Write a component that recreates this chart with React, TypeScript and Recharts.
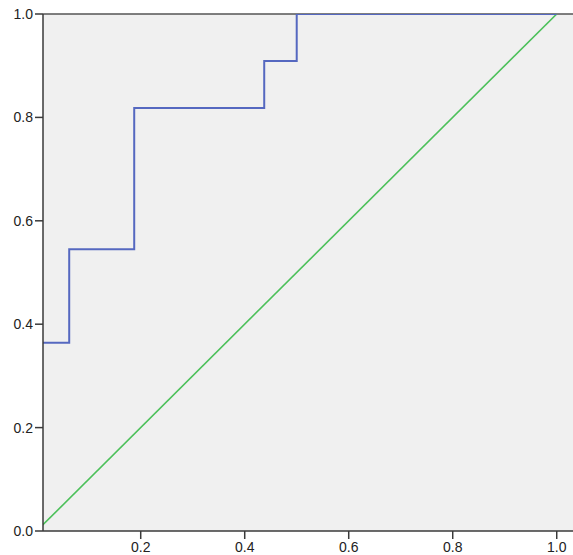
import React from 'react';
import { LineChart, Line, XAxis, YAxis, CartesianGrid, ReferenceLine } from 'recharts';

// 1 - specificity / sensitivity
const falsePositiveRate = [0, 0, 0.0625, 0.1875, 0.4375, 0.5, 1];
const truePositiveRate = [0, 0.364, 0.545, 0.818, 0.909, 1, 1];
const referenceX = [0, 1];
const referenceY = [0, 1];
const xTicks = [0.2, 0.4, 0.6, 0.8, 1.0];
const yTicks = [0, 0.2, 0.4, 0.6, 0.8, 1.0];

const rocData = falsePositiveRate.map((x, i) => ({ x, y: truePositiveRate[i] }));
const diagData = referenceX.map((x, i) => ({ x, y: referenceY[i] }));

const tickStyle = { fontFamily: 'Liberation Sans, Arial, sans-serif', fontSize: 14, fill: '#222' };
const axisColor = '#3a3a3a';

export default function App() {
  return (
    <div style={{ position: 'absolute', left: 0, top: 0 }}>
      <LineChart width={573} height={555} margin={{ top: 14, right: 0, bottom: 0, left: 0 }}>
        <CartesianGrid fill="#f0f0f0" horizontal={false} vertical={false} stroke="none" />
        <XAxis
          type="number"
          dataKey="x"
          domain={[0.0121, 1.0313]}
          allowDataOverflow
          ticks={xTicks}
          tickFormatter={(v: number) => v.toFixed(1)}
          tick={tickStyle}
          tickSize={8}
          tickMargin={3}
          height={24}
          stroke={axisColor}
          strokeWidth={1.5}
        />
        <YAxis
          type="number"
          dataKey="y"
          domain={[0, 1]}
          allowDataOverflow
          ticks={yTicks}
          tickFormatter={(v: number) => v.toFixed(1)}
          tick={tickStyle}
          tickSize={8}
          tickMargin={2}
          width={43}
          stroke={axisColor}
          strokeWidth={1.5}
        />
        <ReferenceLine y={1} stroke="#555" strokeWidth={1.5} />
        <Line
          data={diagData}
          dataKey="y"
          type="linear"
          stroke="#4cc05a"
          strokeWidth={1.6}
          dot={false}
          isAnimationActive={false}
        />
        <Line
          data={rocData}
          dataKey="y"
          type="stepAfter"
          stroke="#5568c0"
          strokeWidth={2}
          dot={false}
          isAnimationActive={false}
        />
      </LineChart>
    </div>
  );
}
